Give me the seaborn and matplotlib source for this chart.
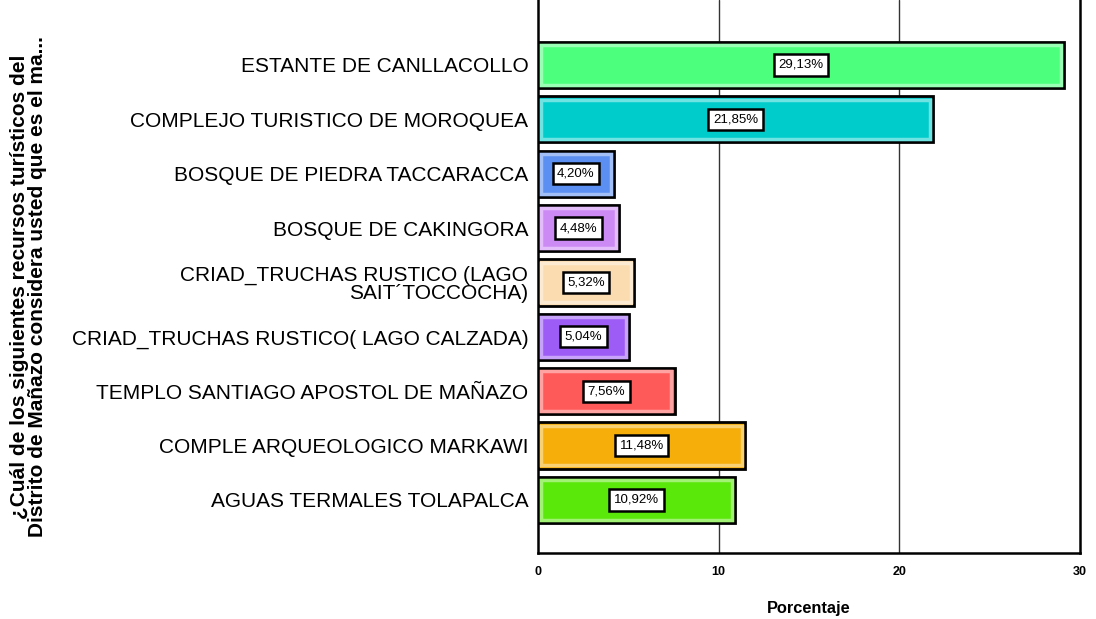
import matplotlib
matplotlib.use("Agg")
import matplotlib.pyplot as plt
import matplotlib.colors as mcolors
import numpy as np
import pandas as pd
import seaborn as sns
from matplotlib.patches import Rectangle

categories = [
    "ESTANTE DE CANLLACOLLO",
    "COMPLEJO TURISTICO DE MOROQUEA",
    "BOSQUE DE PIEDRA TACCARACCA",
    "BOSQUE DE CAKINGORA",
    "CRIAD_TRUCHAS RUSTICO (LAGO\nSAIT´TOCCOCHA)",
    "CRIAD_TRUCHAS RUSTICO( LAGO CALZADA)",
    "TEMPLO SANTIAGO APOSTOL DE MAÑAZO",
    "COMPLE ARQUEOLOGICO MARKAWI",
    "AGUAS TERMALES TOLAPALCA",
]
percentages = [29.13, 21.85, 4.20, 4.48, 5.32, 5.04, 7.56, 11.48, 10.92]
colors = ["#4cff7c", "#00cccc", "#5b8ff2", "#cc8af5", "#fbdcb0",
          "#9c5cf5", "#ff5a5a", "#f5ae0a", "#5ae80a"]
x_ticks = [0, 10, 20, 30]

sns.set_style("white")
plt.rcParams["font.family"] = ["Liberation Sans", "DejaVu Sans"]
plt.rcParams["text.color"] = "black"
plt.rcParams["axes.labelcolor"] = "black"
plt.rcParams["xtick.color"] = "black"
plt.rcParams["ytick.color"] = "black"

df = pd.DataFrame({"categoria": categories, "porcentaje": percentages})

fig = plt.figure(figsize=(10.96, 6.19), dpi=100)
ax = fig.add_axes([538 / 1096, 1 - 553 / 619, (1080 - 538) / 1096, 553 / 619])

sns.barplot(
    data=df, x="porcentaje", y="categoria", hue="categoria",
    palette=dict(zip(categories, colors)), order=categories,
    orient="h", width=0.85, legend=False, saturation=1, ax=ax,
    edgecolor="black", linewidth=2, zorder=3,
)

# soft inner highlight like the SPSS bar style
for patch in list(ax.patches):
    x0, y0 = patch.get_x(), patch.get_y()
    w, h = patch.get_width(), patch.get_height()
    fc = np.array(mcolors.to_rgb(patch.get_facecolor()))
    light = 0.45 * fc + 0.55
    ax.add_patch(Rectangle((x0 + 0.18, y0 + 0.06), w - 0.36, h - 0.12,
                           fill=False, edgecolor=light, linewidth=2.5,
                           alpha=0.8, zorder=4))

for container in ax.containers:
    vals = container.datavalues
    ax.bar_label(
        container,
        labels=[f"{v:.2f}".replace(".", ",") + "%" for v in vals],
        label_type="center", fontsize=9.5, zorder=6,
        bbox=dict(boxstyle="square,pad=0.35", facecolor="white",
                  edgecolor="black", linewidth=1.8),
    )

ax.set_xlim(0, 30)
ax.set_ylim(8.975, -1.195)
ax.set_xticks(x_ticks)
ax.set_xticklabels([str(t) for t in x_ticks], fontsize=9, fontweight="bold")
ax.tick_params(axis="x", length=0, pad=9.5)
ax.tick_params(axis="y", length=0, pad=7, labelsize=15)
for lbl in ax.get_yticklabels():
    lbl.set_linespacing(0.95)

for v in x_ticks[1:3]:
    ax.axvline(v, color="#333333", linewidth=1, zorder=1)

for side in ["left", "bottom", "right"]:
    ax.spines[side].set_color("black")
    ax.spines[side].set_linewidth(1.8)
ax.spines["top"].set_visible(False)

ax.set_xlabel("Porcentaje", fontsize=11.8, fontweight="bold")
ax.xaxis.set_label_coords(0.5, -0.087)
ax.set_ylabel(
    "¿Cuál de los siguientes recursos turísticos del\n"
    "Distrito de Mañazo considera usted que es el ma...",
    fontsize=15, fontweight="bold", linespacing=0.95,
)
ax.yaxis.set_label_coords(-0.905, 0.482)

fig.savefig("out.png", dpi=100)
